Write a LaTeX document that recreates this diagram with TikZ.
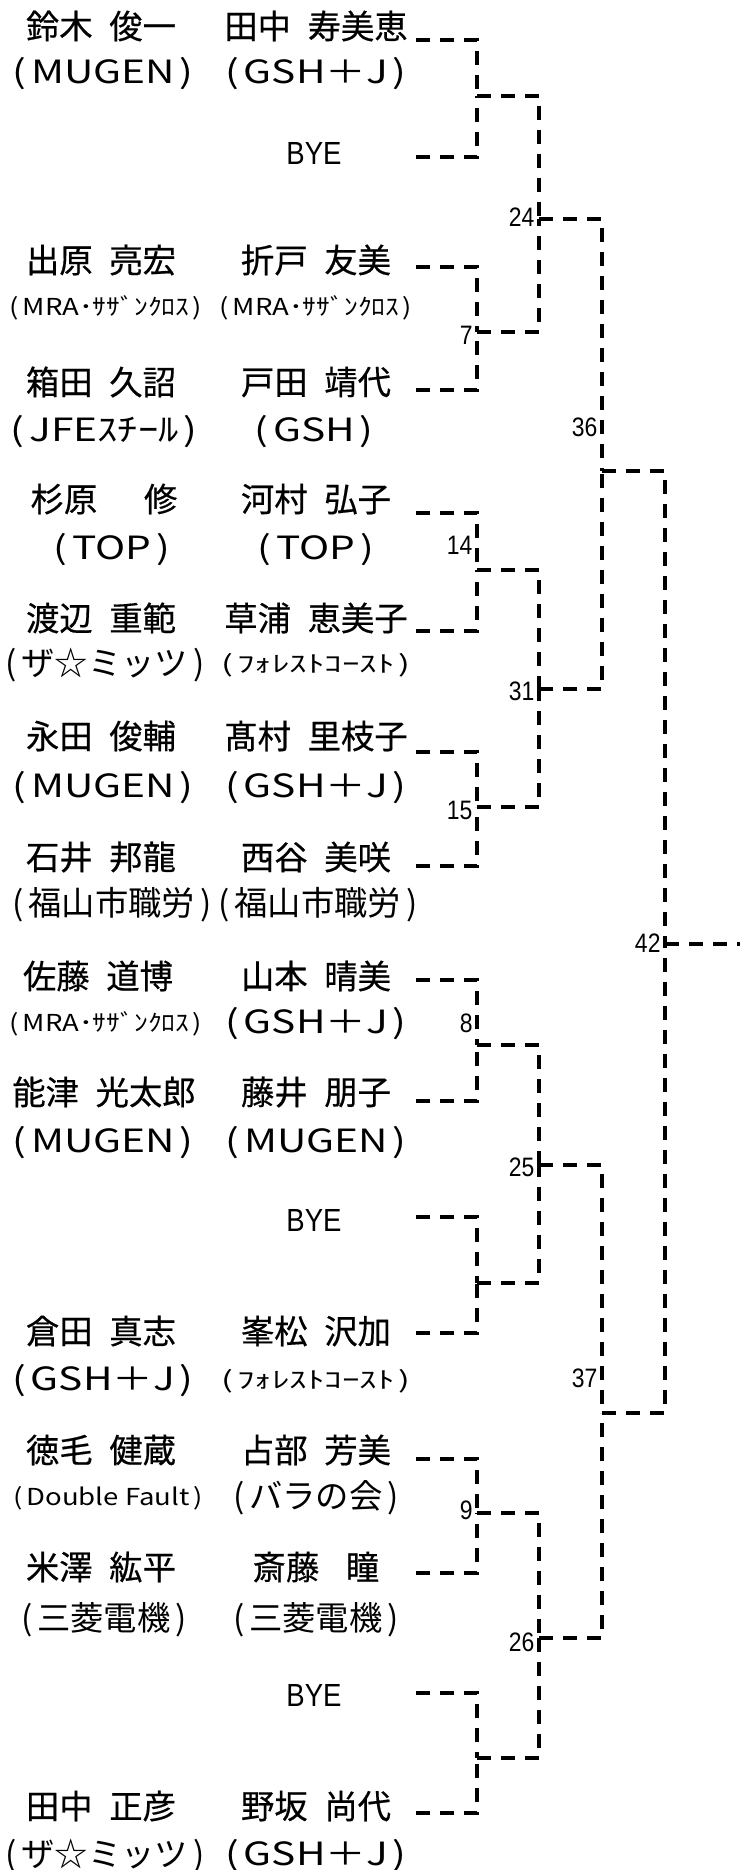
\documentclass[tikz,border=0pt]{standalone}
\usepackage{fontspec}
\setmainfont{Noto Sans CJK JP}
\newfontfamily\namefont[FakeBold=0.5]{Noto Sans CJK JP}
\newfontfamily\clubfont[FakeStretch=1.27]{Noto Sans CJK JP}
\newfontfamily\narrowfont[FakeStretch=0.86]{Liberation Sans}
\newfontfamily\smallfont[FakeStretch=1.18]{Noto Sans CJK JP}
\newfontfamily\widefont[FakeStretch=1.5]{Noto Sans CJK JP}
\newcommand{\nsp}{\hspace{.5em}}
\newcommand{\inpar}[1]{(\hspace{.15em}#1\hspace{.15em})}

\tikzset{every picture/.style={line width=0.75pt}}
\tikzset{
  player/.style={inner sep=0pt, font=\namefont\fontsize{25}{29}\selectfont},
  club/.style={inner sep=0pt, font=\clubfont\fontsize{24}{28}\selectfont},
  clubjp/.style={inner sep=0pt, font=\fontsize{25}{29}\selectfont},
  clubsmall/.style={inner sep=0pt, font=\smallfont\fontsize{17.5}{20}\selectfont},
  clubwide/.style={inner sep=0pt, font=\widefont\fontsize{17.5}{20}\selectfont},
  byebox/.style={inner sep=0pt, font=\narrowfont\fontsize{24}{28}\selectfont},
  matchno/.style={inner sep=0pt, anchor=east, font=\narrowfont\fontsize{20}{23}\selectfont},
  bracket/.style={line width=2.5pt, dash pattern=on 10.5pt off 7.5pt},
}

\begin{document}
\begin{tikzpicture}[x=0.75pt,y=0.75pt,yscale=-1,xscale=1]
\useasboundingbox (0,0) rectangle (740,1870);

%entry ends
\coordinate (p1) at (416,40);
\coordinate (p2) at (416,157);
\coordinate (p3) at (416,267);
\coordinate (p4) at (416,390);
\coordinate (p5) at (416,513);
\coordinate (p6) at (416,631);
\coordinate (p7) at (416,752);
\coordinate (p8) at (416,866);
\coordinate (p9) at (416,980);
\coordinate (p10) at (416,1101);
\coordinate (p11) at (416,1217);
\coordinate (p12) at (416,1333);
\coordinate (p13) at (416,1459);
\coordinate (p14) at (416,1573);
\coordinate (p15) at (416,1693);
\coordinate (p16) at (416,1813);
%match points
\coordinate (ra) at (477,96);
\coordinate (m7) at (477,332);
\coordinate (m14) at (477,570);
\coordinate (m15) at (477,807);
\coordinate (m8) at (477,1045);
\coordinate (rb) at (477,1283);
\coordinate (m9) at (477,1513);
\coordinate (rc) at (477,1758);
\coordinate (m24) at (539,219);
\coordinate (m31) at (539,689);
\coordinate (m25) at (539,1165);
\coordinate (m26) at (539,1638);
\coordinate (m36) at (602,471);
\coordinate (m37) at (602,1413);
\coordinate (m42) at (665,944);
\coordinate (champ) at (740,944);

%Round 1
\draw [bracket] (p1) -| (ra);  \draw [bracket] (p2) -| (ra);
\draw [bracket] (p3) -| (m7);  \draw [bracket] (p4) -| (m7);
\draw [bracket] (p5) -| (m14); \draw [bracket] (p6) -| (m14);
\draw [bracket] (p7) -| (m15); \draw [bracket] (p8) -| (m15);
\draw [bracket] (p9) -| (m8);  \draw [bracket] (p10) -| (m8);
\draw [bracket] (p11) -| (rb); \draw [bracket] (p12) -| (rb);
\draw [bracket] (p13) -| (m9); \draw [bracket] (p14) -| (m9);
\draw [bracket] (p15) -| (rc); \draw [bracket] (p16) -| (rc);
%Round 2
\draw [bracket] (ra) -| (m24);  \draw [bracket] (m7) -| (m24);
\draw [bracket] (m14) -| (m31); \draw [bracket] (m15) -| (m31);
\draw [bracket] (m8) -| (m25);  \draw [bracket] (rb) -| (m25);
\draw [bracket] (m9) -| (m26);  \draw [bracket] (rc) -| (m26);
%Round 3
\draw [bracket] (m24) -| (m36); \draw [bracket] (m31) -| (m36);
\draw [bracket] (m25) -| (m37); \draw [bracket] (m26) -| (m37);
%Final
\draw [bracket] (m36) -| (m42); \draw [bracket] (m37) -| (m42);
\draw [bracket] (m42) -- (champ);

% Text Node
\node [player] (a1) at (101,26) {鈴木\nsp 俊一};
\node [player] (b1) at (316,26) {田中\nsp 寿美恵};
\node [club] (c1) at (103,74) {\inpar{MUGEN}};
\node [club] (d1) at (316,74) {\inpar{GSH＋J}};
% Text Node
\node [byebox] (b2) at (314,153) {BYE};
% Text Node
\node [player] (a3) at (101,260) {出原\nsp 亮宏};
\node [player] (b3) at (316,260) {折戸\nsp 友美};
\node [clubsmall] (c3) at (106,308) {\inpar{MRA･ｻｻﾞﾝｸﾛｽ}};
\node [clubsmall] (d3) at (316,308) {\inpar{MRA･ｻｻﾞﾝｸﾛｽ}};
% Text Node
\node [player] (a4) at (101,382) {箱田\nsp 久詔};
\node [player] (b4) at (316,382) {戸田\nsp 靖代};
\node [club] (c4) at (104,432) {\inpar{JFEｽﾁｰﾙ}};
\node [club] (d4) at (314,432) {\inpar{GSH}};
% Text Node
\node [player] (a5) at (104,499) {杉原\hspace{1.4em}修};
\node [player] (b5) at (316,499) {河村\nsp 弘子};
\node [club] (c5) at (112,550) {\inpar{TOP}};
\node [club] (d5) at (316,550) {\inpar{TOP}};
% Text Node
\node [player] (a6) at (101,618) {渡辺\nsp 重範};
\node [player] (b6) at (316,618) {草浦\nsp 恵美子};
\node [clubjp] (c6) at (105,665) {\inpar{ザ☆ミッツ}};
\node [clubwide] (d6) at (316,665) {\inpar{ﾌｫﾚｽﾄｺｰｽﾄ}};
% Text Node
\node [player] (a7) at (101,736) {永田\nsp 俊輔};
\node [player] (b7) at (316,736) {髙村\nsp 里枝子};
\node [club] (c7) at (103,788) {\inpar{MUGEN}};
\node [club] (d7) at (316,788) {\inpar{GSH＋J}};
% Text Node
\node [player] (a8) at (101,857) {石井\nsp 邦龍};
\node [player] (b8) at (316,857) {西谷\nsp 美咲};
\node [clubjp] (c8) at (112,905) {\inpar{福山市職労}};
\node [clubjp] (d8) at (318,905) {\inpar{福山市職労}};
% Text Node
\node [player] (a9) at (98,976) {佐藤\nsp 道博};
\node [player] (b9) at (316,976) {山本\nsp 晴美};
\node [clubsmall] (c9) at (106,1024) {\inpar{MRA･ｻｻﾞﾝｸﾛｽ}};
\node [club] (d9) at (316,1024) {\inpar{GSH＋J}};
% Text Node
\node [player] (a10) at (104,1092) {能津\nsp 光太郎};
\node [player] (b10) at (316,1092) {藤井\nsp 朋子};
\node [club] (c10) at (103,1143) {\inpar{MUGEN}};
\node [club] (d10) at (316,1143) {\inpar{MUGEN}};
% Text Node
\node [byebox] (b11) at (314,1220) {BYE};
% Text Node
\node [player] (a12) at (101,1331) {倉田\nsp 真志};
\node [player] (b12) at (316,1331) {峯松\nsp 沢加};
\node [club] (c12) at (103,1381) {\inpar{GSH＋J}};
\node [clubwide] (d12) at (316,1381) {\inpar{ﾌｫﾚｽﾄｺｰｽﾄ}};
% Text Node
\node [player] (a13) at (101,1450) {徳毛\nsp 健蔵};
\node [player] (b13) at (316,1450) {占部\nsp 芳美};
\node [clubsmall] (c13) at (108,1498) {\inpar{Double Fault}};
\node [clubjp] (d13) at (316,1498) {\inpar{バラの会}};
% Text Node
\node [player] (a14) at (101,1567) {米澤\nsp 紘平};
\node [player] (b14) at (316,1567) {斎藤\hspace{.8em}瞳};
\node [clubjp] (c14) at (104,1620) {\inpar{三菱電機}};
\node [clubjp] (d14) at (316,1620) {\inpar{三菱電機}};
% Text Node
\node [byebox] (b15) at (314,1695) {BYE};
% Text Node
\node [player] (a16) at (101,1806) {田中\nsp 正彦};
\node [player] (b16) at (316,1806) {野坂\nsp 尚代};
\node [clubjp] (c16) at (105,1856) {\inpar{ザ☆ミッツ}};
\node [club] (d16) at (316,1856) {\inpar{GSH＋J}};

% Match numbers
\node [matchno] (n7) at (473,335) {7};
\node [matchno] (n14) at (473,545) {14};
\node [matchno] (n15) at (473,810) {15};
\node [matchno] (n8) at (473,1023) {8};
\node [matchno] (n9) at (473,1510) {9};
\node [matchno] (n24) at (535,217) {24};
\node [matchno] (n31) at (535,691) {31};
\node [matchno] (n25) at (535,1167) {25};
\node [matchno] (n26) at (535,1642) {26};
\node [matchno] (n36) at (598,427) {36};
\node [matchno] (n37) at (598,1378) {37};
\node [matchno] (n42) at (661,943) {42};

\end{tikzpicture}
\end{document}
